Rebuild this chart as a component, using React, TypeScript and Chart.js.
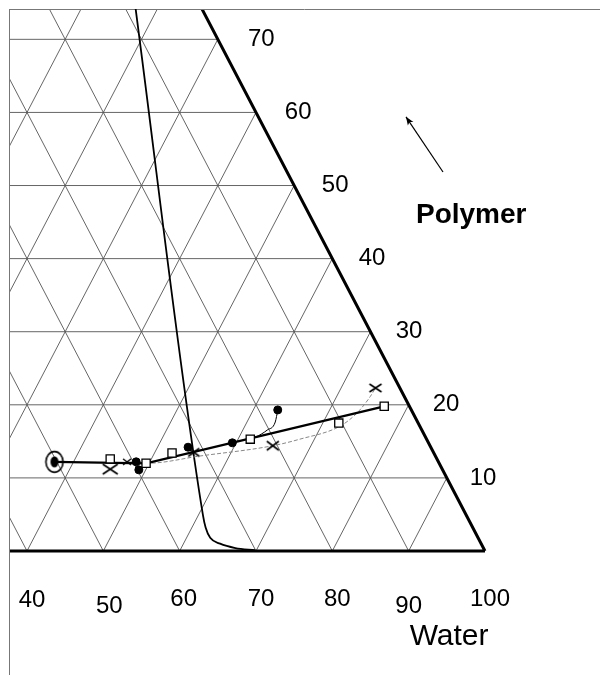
import React, { useEffect, useRef } from "react";
import { Chart, registerables } from "chart.js";

Chart.register(...registerables);

// Compositions in % : water, polymer (third component = 100 - water - polymer)
const startWater = [37.5];
const startPolymer = [12.2];
const squareWater = [44.6, 49.6, 52.3, 61.6, 72.1, 76.9];
const squarePolymer = [12.6, 12.0, 13.4, 15.3, 17.5, 19.8];
const dotWater = [48.2, 49.1, 54.0, 59.5, 63.2];
const dotPolymer = [12.2, 11.1, 14.2, 14.8, 19.3];
const crossWater = [45.3, 47.0, 55.1, 65.0, 74.5];
const crossPolymer = [11.2, 12.2, 13.5, 14.4, 22.3];
const tieWater = [37.5, 49.6, 76.9];
const tiePolymer = [12.2, 12.0, 19.8];
const dashWater = [47.1, 49.7, 56.2, 65.0, 68.1, 72.5, 73.8, 74.4, 74.5];
const dashPolymer = [12.2, 12.0, 13.0, 14.4, 15.3, 17.1, 18.9, 21.1, 22.3];
const curveWater = [61.6, 62.2, 63.2, 63.7, 63.2];
const curvePolymer = [15.3, 15.6, 16.55, 17.65, 19.3];
const boundaryWater = [15.5, 60.6, 61.8, 63.1, 64.8, 67.1, 69.8];
const boundaryPolymer = [76.8, 4.9, 3.2, 1.8, 1.0, 0.4, 0.1];

const gridSteps = [10, 20, 30, 40, 50, 60, 70, 80, 90];
const polymerTicks = [10, 20, 30, 40, 50, 60, 70];
const waterTicks = [40, 50, 60, 70, 80, 90, 100];

const FONT = "'Liberation Sans', Arial, Helvetica, sans-serif";

const toXY = (ws: number[], ps: number[]) =>
  ws.map((w, i) => ({ x: w + ps[i] / 2, y: ps[i] }));

function makeRingedDot(): HTMLCanvasElement {
  const c = document.createElement("canvas");
  c.width = 22;
  c.height = 26;
  const g = c.getContext("2d")!;
  g.strokeStyle = "#000";
  g.lineWidth = 1.6;
  g.beginPath();
  g.ellipse(11, 13, 8.6, 10.4, 0, 0, Math.PI * 2);
  g.stroke();
  g.fillStyle = "#000";
  g.beginPath();
  g.ellipse(11, 13, 4, 5.6, 0, 0, Math.PI * 2);
  g.fill();
  return c;
}

function makeX(w: number, h: number, lw: number): HTMLCanvasElement {
  const c = document.createElement("canvas");
  c.width = Math.ceil(w + 4);
  c.height = Math.ceil(h + 4);
  const g = c.getContext("2d")!;
  const ox = (c.width - w) / 2;
  const oy = (c.height - h) / 2;
  g.strokeStyle = "#000";
  g.lineWidth = lw;
  g.beginPath();
  g.moveTo(ox, oy);
  g.lineTo(ox + w, oy + h);
  g.moveTo(ox + w, oy);
  g.lineTo(ox, oy + h);
  g.stroke();
  return c;
}

const ternaryPlugin = {
  id: "ternaryFrame",
  beforeDatasetsDraw(chart: any) {
    const { ctx, chartArea: a } = chart;
    const xs = chart.scales.x;
    const ys = chart.scales.y;
    const P = (w: number, p: number) => [
      xs.getPixelForValue(w + p / 2),
      ys.getPixelForValue(p),
    ];
    const seg = (w1: number, p1: number, w2: number, p2: number) => {
      const [x1, y1] = P(w1, p1);
      const [x2, y2] = P(w2, p2);
      ctx.moveTo(x1, y1);
      ctx.lineTo(x2, y2);
    };
    ctx.save();
    ctx.beginPath();
    ctx.rect(a.left, a.top, a.right - a.left, a.bottom - a.top + 4);
    ctx.clip();
    // thin grid
    ctx.strokeStyle = "#555";
    ctx.lineWidth = 0.9;
    ctx.beginPath();
    for (const v of gridSteps) {
      seg(0, v, 100 - v, v);
      seg(v, 0, v, 100 - v);
      seg(100 - v, 0, 0, 100 - v);
    }
    ctx.stroke();
    // thick triangle edges
    ctx.strokeStyle = "#000";
    ctx.lineWidth = 3;
    ctx.beginPath();
    seg(0, 0, 100, 0);
    seg(100, 0, 0, 100);
    ctx.stroke();
    ctx.restore();

    // frame lines
    ctx.save();
    ctx.strokeStyle = "#777";
    ctx.lineWidth = 1;
    ctx.beginPath();
    ctx.moveTo(a.left + 0.5, a.top);
    ctx.lineTo(a.left + 0.5, chart.height);
    ctx.moveTo(a.left, a.top + 0.5);
    ctx.lineTo(a.right, a.top + 0.5);
    ctx.stroke();
    ctx.restore();
  },
  afterDraw(chart: any) {
    const { ctx, chartArea: a } = chart;
    const xs = chart.scales.x;
    const ys = chart.scales.y;
    ctx.save();
    ctx.fillStyle = "#000";
    ctx.textAlign = "center";
    ctx.textBaseline = "alphabetic";
    ctx.font = `24px ${FONT}`;
    // polymer labels along the right edge
    for (const p of polymerTicks) {
      const px = xs.getPixelForValue(100 - p / 2) + 35 + 0.12 * p;
      const py = ys.getPixelForValue(p) - 2 + 8.6;
      ctx.fillText(String(p), px, py);
    }
    // water labels along the bottom
    const waterDx = [5, 6, 4, 5, 5, 0, 5];
    const waterDy = [0, 6, -1, -1, -1, 6, -1];
    waterTicks.forEach((w, i) => {
      const px = xs.getPixelForValue(w) + waterDx[i];
      const py = a.bottom + 56 + waterDy[i];
      ctx.fillText(String(w), px, py);
    });
    // axis names
    ctx.font = `30px ${FONT}`;
    ctx.fillText("Water", xs.getPixelForValue(95.3), a.bottom + 94);
    ctx.font = `bold 28px ${FONT}`;
    ctx.textAlign = "left";
    ctx.fillText("Polymer", xs.getPixelForValue(90.96), ys.getPixelForValue(44.9));
    // arrow pointing to polymer apex direction
    const x1 = xs.getPixelForValue(94.5);
    const y1 = ys.getPixelForValue(51.85);
    const x2 = xs.getPixelForValue(89.65);
    const y2 = ys.getPixelForValue(59.4);
    ctx.strokeStyle = "#000";
    ctx.lineWidth = 1.2;
    ctx.beginPath();
    ctx.moveTo(x1, y1);
    ctx.lineTo(x2, y2);
    ctx.stroke();
    const ang = Math.atan2(y2 - y1, x2 - x1);
    const hl = 9;
    const hw = 0.38;
    ctx.beginPath();
    ctx.moveTo(x2, y2);
    ctx.lineTo(x2 - hl * Math.cos(ang - hw), y2 - hl * Math.sin(ang - hw));
    ctx.lineTo(x2 - hl * 0.7 * Math.cos(ang), y2 - hl * 0.7 * Math.sin(ang));
    ctx.lineTo(x2 - hl * Math.cos(ang + hw), y2 - hl * Math.sin(ang + hw));
    ctx.closePath();
    ctx.fill();
    ctx.restore();
  },
};

export default function App() {
  const ref = useRef<HTMLCanvasElement>(null);
  useEffect(() => {
    const canvas = ref.current!;
    const ring = makeRingedDot();
    const xImgs = [
      makeX(15, 10, 1.7),
      makeX(8, 6, 1.4),
      makeX(11, 8, 1.6),
      makeX(12, 9, 1.6),
      makeX(12, 8, 1.6),
    ];
    const chart = new Chart(canvas, {
      type: "scatter",
      data: {
        datasets: [
          {
            label: "start",
            data: toXY(startWater, startPolymer),
            pointStyle: ring as any,
            pointRadius: 10,
            showLine: false,
          },
          {
            label: "dots",
            data: toXY(dotWater, dotPolymer),
            pointStyle: "circle",
            pointRadius: 4,
            pointBorderWidth: 1,
            backgroundColor: "#000",
            borderColor: "#000",
            showLine: false,
          },
          {
            label: "squares",
            data: toXY(squareWater, squarePolymer),
            pointStyle: "rect",
            pointRadius: 5.8,
            pointBorderWidth: 1.3,
            backgroundColor: "#fff",
            borderColor: "#000",
            showLine: false,
          },
          {
            label: "crosses",
            data: toXY(crossWater, crossPolymer),
            pointStyle: ((c: any) => xImgs[c.dataIndex] || xImgs[2]) as any,
            pointRadius: 6,
            showLine: false,
          },
          {
            label: "curve",
            data: toXY(curveWater, curvePolymer),
            showLine: true,
            borderColor: "#000",
            borderWidth: 1,
            pointRadius: 0,
            cubicInterpolationMode: "monotone",
          },
          {
            label: "tie",
            data: toXY(tieWater, tiePolymer),
            showLine: true,
            borderColor: "#000",
            borderWidth: 2.3,
            pointRadius: 0,
            tension: 0,
          },
          {
            label: "dash",
            data: toXY(dashWater, dashPolymer),
            showLine: true,
            borderColor: "#888",
            borderWidth: 1,
            borderDash: [4, 2],
            pointRadius: 0,
            cubicInterpolationMode: "monotone",
          },
          {
            label: "boundary",
            data: toXY(boundaryWater, boundaryPolymer),
            showLine: true,
            borderColor: "#000",
            borderWidth: 1.8,
            pointRadius: 0,
            cubicInterpolationMode: "monotone",
          },
        ],
      },
      options: {
        animation: false,
        responsive: false,
        events: [],
        layout: {
          autoPadding: false,
          padding: { left: 9, top: 9, right: 2, bottom: 124 },
        },
        scales: {
          x: { type: "linear", display: false, min: 37.64, max: 115.07 },
          y: { type: "linear", display: false, min: 0, max: 74.15 },
        },
        plugins: {
          legend: { display: false },
          tooltip: { enabled: false },
        },
      },
      plugins: [ternaryPlugin as any],
    });
    return () => chart.destroy();
  }, []);
  return (
    <div
      style={{
        position: "fixed",
        left: 0,
        top: 0,
        width: 602,
        height: 675,
        background: "#fff",
      }}
    >
      <canvas ref={ref} width={602} height={675} style={{ display: "block" }} />
    </div>
  );
}
